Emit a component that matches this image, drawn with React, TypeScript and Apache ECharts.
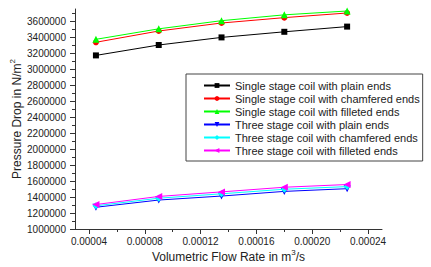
import React, { useEffect, useRef } from 'react';
import * as echarts from 'echarts';

const flowRates = [0.000045, 0.00009, 0.000135, 0.00018, 0.000225];
const singlePlain = [3170000, 3300000, 3395000, 3465000, 3530000];
const singleChamfered = [3334000, 3475000, 3575000, 3642000, 3700000];
const singleFilleted = [3371000, 3502000, 3604000, 3677000, 3725000];
const threePlain = [1272000, 1362000, 1412000, 1470000, 1504000];
const threeChamfered = [1290000, 1385000, 1440000, 1497000, 1530000];
const threeFilleted = [1306000, 1407000, 1464000, 1522000, 1556000];

const seriesNames = [
  'Single stage coil with plain ends',
  'Single stage coil with chamfered ends',
  'Single stage coil with filleted ends',
  'Three stage coil with plain ends',
  'Three stage coil with chamfered ends',
  'Three stage coil with filleted ends',
];

const xMajorTicks = [0.00004, 0.00008, 0.00012, 0.00016, 0.0002, 0.00024];
const xMinorTicks = [0.00006, 0.0001, 0.00014, 0.00018, 0.00022];
const yMajorTicks = [1000000, 1200000, 1400000, 1600000, 1800000, 2000000, 2200000, 2400000, 2600000, 2800000, 3000000, 3200000, 3400000, 3600000];
const yMinorTicks = [1100000, 1300000, 1500000, 1700000, 1900000, 2100000, 2300000, 2500000, 2700000, 2900000, 3100000, 3300000, 3500000, 3700000];

const FONT = "'Liberation Sans', Arial, sans-serif";

export default function App() {
  const ref = useRef<HTMLDivElement>(null);
  useEffect(() => {
    if (!ref.current) return;
    const chart = echarts.init(ref.current, undefined, { renderer: 'svg' });
    const values = [singlePlain, singleChamfered, singleFilleted, threePlain, threeChamfered, threeFilleted];
    const colors = ['#000000', '#ff0000', '#00ff00', '#0000ff', '#00ffff', '#ff00ff'];
    const symbols = ['rect', 'circle', 'triangle', 'triangle', 'diamond', 'triangle'];
    const rotations = [0, 0, 0, 180, 0, 90];
    const sizes = [6, 6, 7, 7, 7, 7];
    const xMin = 0.00003;
    const xMax = 0.00025;
    const yMin = 1000000;
    const yMax = 3750000;
    const axisColor = '#333';
    const titleStyle = {
      fontSize: 12,
      color: '#222',
      fontFamily: FONT,
      lineHeight: 18,
      rich: {
        sup: { fontSize: 8, verticalAlign: 'top', color: '#222', fontFamily: FONT, lineHeight: 8 },
      },
    };
    chart.setOption({
      animation: false,
      textStyle: { fontFamily: FONT },
      grid: { left: 75, right: 49, top: 9, bottom: 38, containLabel: false, outerBoundsMode: 'none' },
      legend: {
        orient: 'vertical',
        left: 186,
        top: 74,
        padding: [5, 3, 4, 17],
        itemWidth: 26,
        itemHeight: 6,
        itemGap: 0,
        borderColor: '#444',
        borderWidth: 1,
        backgroundColor: '#fff',
        textStyle: { fontSize: 11, color: '#222', fontFamily: FONT, lineHeight: 13 },
        data: seriesNames,
      },
      xAxis: [
        {
          type: 'value',
          min: xMin,
          max: xMax,
          position: 'bottom',
          name: 'Volumetric Flow Rate in m{sup|3}/s',
          nameLocation: 'middle',
          nameGap: 19,
          nameMoveOverlap: false,
          nameTextStyle: titleStyle,
          axisLine: { onZero: false, lineStyle: { color: axisColor, width: 1 } },
          axisTick: { customValues: xMajorTicks, length: 5, lineStyle: { color: axisColor } },
          axisLabel: {
            customValues: xMajorTicks,
            margin: 7,
            fontSize: 10,
            color: '#222',
            fontFamily: FONT,
            formatter: (v: number) => v.toFixed(5),
          },
          splitLine: { show: false },
        },
        {
          type: 'value',
          min: xMin,
          max: xMax,
          position: 'bottom',
          axisLine: { show: false, onZero: false },
          axisTick: { customValues: xMinorTicks, length: 3, lineStyle: { color: axisColor } },
          axisLabel: { show: false },
          splitLine: { show: false },
        },
      ],
      yAxis: [
        {
          type: 'value',
          min: yMin,
          max: yMax,
          position: 'left',
          name: 'Pressure Drop in N/m{sup|2}',
          nameLocation: 'middle',
          nameGap: 49,
          nameMoveOverlap: false,
          nameTextStyle: titleStyle,
          axisLine: { onZero: false, lineStyle: { color: axisColor, width: 1 } },
          axisTick: { customValues: yMajorTicks, length: 5, lineStyle: { color: axisColor } },
          axisLabel: {
            customValues: yMajorTicks,
            margin: 9,
            fontSize: 10,
            color: '#222',
            fontFamily: FONT,
            formatter: (v: number) => String(Math.round(v)),
          },
          splitLine: { show: false },
        },
        {
          type: 'value',
          min: yMin,
          max: yMax,
          position: 'left',
          axisLine: { show: false, onZero: false },
          axisTick: { customValues: yMinorTicks, length: 3, lineStyle: { color: axisColor } },
          axisLabel: { show: false },
          splitLine: { show: false },
        },
      ],
      series: seriesNames.map((name, i) => ({
        name,
        type: 'line',
        xAxisIndex: 0,
        yAxisIndex: 0,
        data: flowRates.map((x, j) => [x, values[i][j]]),
        symbol: symbols[i],
        symbolSize: sizes[i],
        symbolRotate: rotations[i],
        showSymbol: true,
        lineStyle: { color: colors[i], width: 1 },
        itemStyle: { color: colors[i] },
        color: colors[i],
        z: 2 + i,
      })),
    });
    return () => chart.dispose();
  }, []);
  return (
    <div
      ref={ref}
      style={{ position: 'fixed', left: 0, top: 0, width: 431, height: 267, background: '#fff' }}
    />
  );
}
